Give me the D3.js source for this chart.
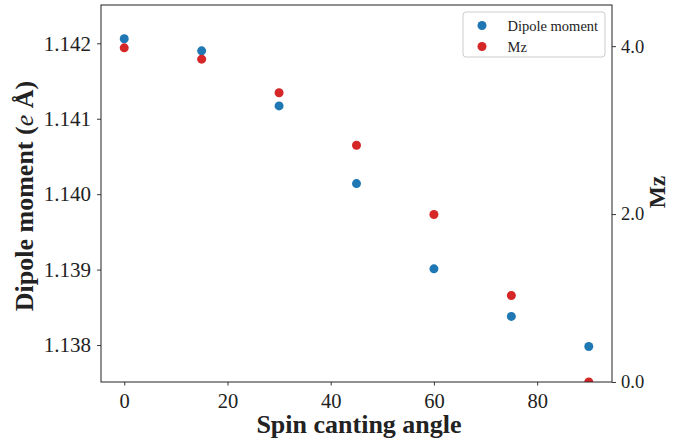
<!DOCTYPE html>
<html>
<head>
<meta charset="utf-8">
<script src="https://cdn.jsdelivr.net/npm/d3@7"></script>
<style>
  body { margin: 0; background: #fff; }
  text { font-family: "Liberation Serif", "DejaVu Serif", serif; fill: #222; }
</style>
</head>
<body>
<script>
// values
var angles = [0, 15, 30, 45, 60, 75, 90];
var dipole = [1.14206, 1.14190, 1.14117, 1.14014, 1.13901, 1.13838, 1.13798];
var mz = [3.98, 3.845, 3.445, 2.82, 1.995, 1.03, 0.0];
var xTicks = [0, 20, 40, 60, 80];
var leftTicks = [1.138, 1.139, 1.140, 1.141, 1.142];
var rightTicks = [0, 2, 4];
var seriesNames = ["Dipole moment", "Mz"];
var colors = ["#1f77b4", "#d62728"];

var W = 688, H = 443;
var margin = {top: 5, right: 76, bottom: 61, left: 101},
    width = W - margin.left - margin.right,
    height = H - margin.top - margin.bottom;

var svg = d3.select("body").append("svg")
    .attr("width", W)
    .attr("height", H);

var g = svg.append("g")
    .attr("transform", "translate(" + margin.left + "," + margin.top + ")");

var x = d3.scaleLinear().domain([-4.5, 94.5]).range([0, width]);
var yL = d3.scaleLinear().domain([1.13751, 1.142508]).range([height, 0]);
var yR = d3.scaleLinear().domain([0, 4.49]).range([height, 0]);

g.append("clipPath").attr("id", "clip")
  .append("rect").attr("width", width).attr("height", height);

var pts = g.append("g").attr("clip-path", "url(#clip)");

pts.selectAll(".dip").data(angles).enter().append("circle")
    .attr("class", "dip")
    .attr("cx", function(d) { return x(d); })
    .attr("cy", function(d, i) { return yL(dipole[i]); })
    .attr("r", 4.5)
    .attr("fill", colors[0]);

pts.selectAll(".mz").data(angles).enter().append("circle")
    .attr("class", "mz")
    .attr("cx", function(d) { return x(d); })
    .attr("cy", function(d, i) { return yR(mz[i]); })
    .attr("r", 4.5)
    .attr("fill", colors[1]);

var xAxis = d3.axisBottom(x).tickValues(xTicks).tickSize(3.5).tickPadding(8)
    .tickFormat(d3.format("d"));
var leftAxis = d3.axisLeft(yL).tickValues(leftTicks).tickSize(4).tickPadding(6)
    .tickFormat(d3.format(".3f"));
var rightAxis = d3.axisRight(yR).tickValues(rightTicks).tickSize(4).tickPadding(5)
    .tickFormat(d3.format(".1f"));

function styleAxis(sel, size) {
  sel.select(".domain").remove();
  sel.selectAll(".tick line").attr("stroke", "#222").attr("stroke-width", 0.9);
  sel.selectAll(".tick text").style("font-size", size + "px").attr("fill", "#333");
}

g.append("g").attr("transform", "translate(0," + height + ")").call(xAxis).call(styleAxis, 20.5);
g.append("g").call(leftAxis).call(styleAxis, 21);
g.append("g").attr("transform", "translate(" + width + ",0)").call(rightAxis).call(styleAxis, 18.5);

// frame
g.append("rect")
    .attr("width", width).attr("height", height)
    .attr("fill", "none").attr("stroke", "#222").attr("stroke-width", 1);

// axis labels
svg.append("text")
    .attr("x", 359).attr("y", 433)
    .attr("text-anchor", "middle")
    .style("font-size", "26px").style("font-weight", "bold")
    .text("Spin canting angle");

var yl = svg.append("text")
    .attr("transform", "translate(33,196) rotate(-90)")
    .attr("text-anchor", "middle")
    .style("font-size", "26px").style("font-weight", "bold");
yl.append("tspan").text("Dipole moment (");
yl.append("tspan").style("font-style", "italic").style("font-weight", "normal").text("e");
yl.append("tspan").text(" Å)");

svg.append("text")
    .attr("transform", "translate(665,192) rotate(-90)")
    .attr("text-anchor", "middle")
    .style("font-size", "23.5px").style("font-weight", "bold")
    .text("Mz");

// legend
var lg = svg.append("g").attr("transform", "translate(463,12)");
lg.append("rect")
    .attr("width", 142).attr("height", 45).attr("rx", 3)
    .attr("fill", "#fff").attr("fill-opacity", 0.8)
    .attr("stroke", "#ccc").attr("stroke-width", 1);
seriesNames.forEach(function(name, i) {
  lg.append("circle")
      .attr("cx", 19).attr("cy", 13.5 + i * 21)
      .attr("r", 4.5).attr("fill", colors[i]);
  lg.append("text")
      .attr("x", 44.5).attr("y", 13.5 + i * 21)
      .attr("dy", "0.35em")
      .style("font-size", "14.5px")
      .text(name);
});
</script>
</body>
</html>
